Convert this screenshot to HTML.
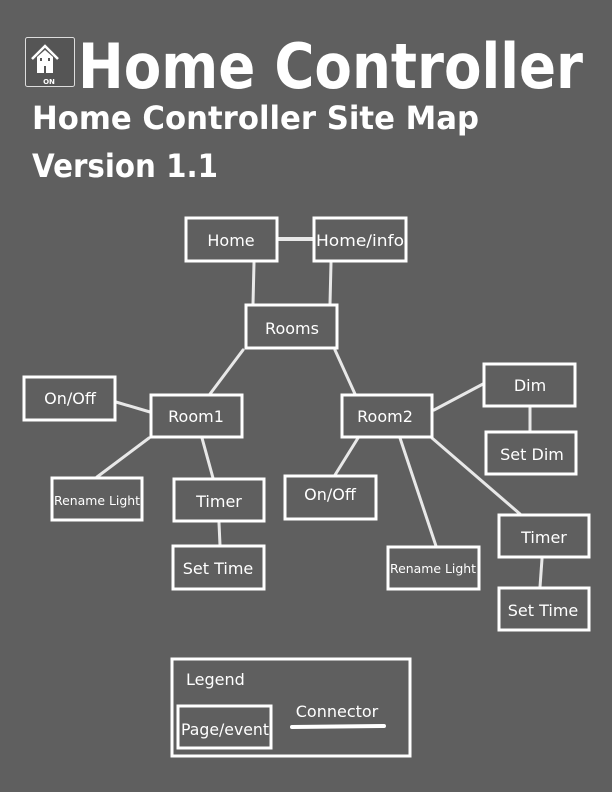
<!DOCTYPE html>
<html><head><style>
html,body{margin:0;padding:0;background:#5f5f5f;}
svg{display:block;}
text{font-family:"DejaVu Sans","Liberation Sans",sans-serif;fill:#fff;}
</style></head><body>
<svg width="612" height="792" viewBox="0 0 612 792" xmlns="http://www.w3.org/2000/svg">
<rect width="612" height="792" fill="#5f5f5f"/>
<!-- icon -->
<rect x="25.5" y="37.5" width="49" height="49" rx="2" fill="#555" stroke="#ddd" stroke-width="1"/>
<polyline points="32,59 45,46 58,59" fill="none" stroke="#fff" stroke-width="2.5"/>
<path d="M37,57 L45,50 L53,57 L53,73 L37,73 Z" fill="#fff"/>
<rect x="40" y="58" width="2" height="3" fill="#555"/>
<rect x="48" y="58" width="2" height="3" fill="#555"/>
<rect x="44" y="66" width="2" height="7" fill="#555"/>
<text x="49" y="84" font-size="7" font-weight="bold" text-anchor="middle">ON</text>
<text x="78" y="88" font-size="62" font-weight="bold" textLength="505" lengthAdjust="spacingAndGlyphs">Home Controller</text>
<text x="32" y="129" font-size="32" font-weight="bold" textLength="447" lengthAdjust="spacingAndGlyphs">Home Controller Site Map</text>
<text x="32" y="177" font-size="32" font-weight="bold" textLength="186" lengthAdjust="spacingAndGlyphs">Version 1.1</text>
<!-- connectors -->
<g stroke="#e8e8e8" stroke-width="3" stroke-linecap="round" fill="none">
<line x1="279" y1="239" x2="313" y2="239" stroke-width="4"/>
<line x1="254" y1="263" x2="253" y2="304"/>
<line x1="331" y1="263" x2="330" y2="304"/>
<line x1="243" y1="350" x2="210" y2="394"/>
<line x1="335" y1="350" x2="355" y2="394"/>
<line x1="116" y1="402" x2="150" y2="412"/>
<line x1="149" y1="438" x2="97" y2="477"/>
<line x1="202" y1="438" x2="213" y2="478"/>
<line x1="219" y1="523" x2="220" y2="545"/>
<line x1="358" y1="438" x2="335" y2="475"/>
<line x1="400" y1="438" x2="436" y2="546"/>
<line x1="432" y1="438" x2="520" y2="514"/>
<line x1="434" y1="410" x2="483" y2="384"/>
<line x1="530" y1="408" x2="530" y2="431"/>
<line x1="542" y1="559" x2="540" y2="587"/>
</g>
<!-- boxes -->
<g fill="none" stroke="#fff" stroke-width="3">
<rect x="186" y="218" width="91" height="43"/>
<rect x="314" y="218" width="92" height="43"/>
<rect x="246" y="305" width="91" height="43"/>
<rect x="24" y="377" width="91" height="43"/>
<rect x="151" y="395" width="91" height="42"/>
<rect x="342" y="395" width="90" height="42"/>
<rect x="484" y="364" width="91" height="42"/>
<rect x="486" y="432" width="90" height="42"/>
<rect x="52" y="478" width="90" height="42"/>
<rect x="174" y="479" width="90" height="42"/>
<rect x="173" y="546" width="91" height="43"/>
<rect x="285" y="476" width="91" height="43"/>
<rect x="388" y="547" width="91" height="42"/>
<rect x="499" y="515" width="90" height="42"/>
<rect x="499" y="588" width="90" height="42"/>
<rect x="172" y="659" width="238" height="97"/>
<rect x="178" y="706" width="93" height="42"/>
</g>
<line x1="292" y1="727" x2="384" y2="726" stroke="#fff" stroke-width="4" stroke-linecap="round"/>
<g font-size="16" text-anchor="middle">
<text x="231" y="246">Home</text>
<text x="360" y="246" textLength="88" lengthAdjust="spacingAndGlyphs">Home/info</text>
<text x="292" y="334">Rooms</text>
<text x="70" y="404">On/Off</text>
<text x="196" y="422">Room1</text>
<text x="385" y="422">Room2</text>
<text x="530" y="391">Dim</text>
<text x="532" y="460">Set Dim</text>
<text x="219" y="507">Timer</text>
<text x="218" y="574">Set Time</text>
<text x="330" y="500">On/Off</text>
<text x="544" y="543">Timer</text>
<text x="543" y="616">Set Time</text>
<text x="225" y="735" textLength="88" lengthAdjust="spacingAndGlyphs">Page/event</text>
<text x="337" y="717">Connector</text>
</g>
<g font-size="12" text-anchor="middle">
<text x="97" y="505" textLength="86" lengthAdjust="spacingAndGlyphs">Rename Light</text>
<text x="433" y="573" textLength="86" lengthAdjust="spacingAndGlyphs">Rename Light</text>
</g>
<text x="186" y="685" font-size="16">Legend</text>
</svg>
</body></html>
